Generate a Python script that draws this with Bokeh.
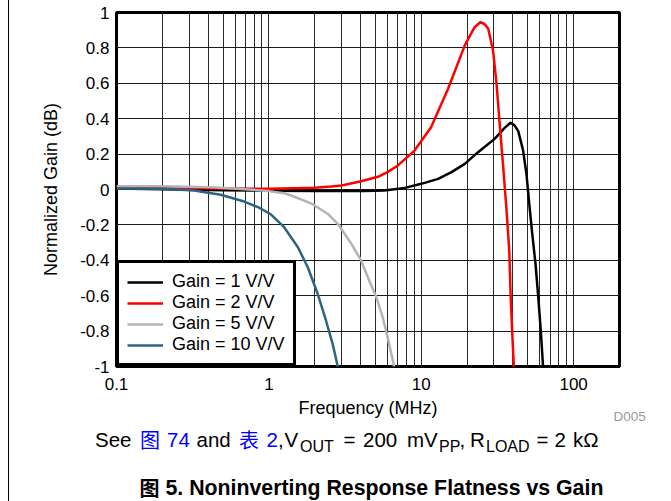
from bokeh.plotting import figure
from bokeh.layouts import column, row
from bokeh.models import FixedTicker, Range1d, Div
from bokeh.core.properties import value
from bokeh.embed import file_html
from bokeh.resources import INLINE

# ---------------- data ----------------
freq_g1 = [0.1, 0.2, 0.5, 1, 2, 3, 4.2, 5.7, 7.8, 10, 12.9, 15.8, 19.3, 23.6, 30.3,
           35, 38.5, 41, 43.3, 46.6, 49.0, 51.4, 53.5, 56.2, 58.5, 60.9, 63, 66]
gain_g1 = [0.005, 0.002, -0.004, -0.007, -0.008, -0.008, -0.009, -0.006, 0.009, 0.032, 0.060,
           0.098, 0.145, 0.211, 0.286, 0.345, 0.377, 0.362, 0.33, 0.22, 0.089, -0.10, -0.25,
           -0.42, -0.60, -0.80, -1.0, -1.25]

freq_g2 = [0.1, 0.2, 0.5, 1, 2, 2.56, 3, 4.03, 5.2, 6.0, 7.03, 9.04, 11.6, 15.0, 19.3,
           22.4, 24.4, 26, 27.5, 29.6, 31.2, 32.7, 34.5, 36.3, 37.8, 38.6, 39.5, 40.5, 42]
gain_g2 = [0.012, 0.01, 0.005, 0.004, 0.01, 0.017, 0.023, 0.047, 0.072, 0.098, 0.136, 0.22,
           0.352, 0.569, 0.814, 0.917, 0.945, 0.935, 0.908, 0.785, 0.597, 0.371, 0.126,
           -0.119, -0.345, -0.60, -0.80, -1.0, -1.3]

freq_g5 = [0.1, 0.2, 0.415, 0.62, 0.98, 1.26, 1.4, 1.89, 2.43, 2.89, 3.48, 4.03, 4.55,
           5.07, 5.58, 6.01, 6.57, 7.2]
gain_g5 = [0.019, 0.019, 0.013, 0.004, -0.008, -0.021, -0.034, -0.078, -0.137, -0.203,
           -0.307, -0.401, -0.514, -0.608, -0.721, -0.834, -0.981, -1.2]

freq_g10 = [0.1, 0.2, 0.323, 0.483, 0.688, 0.85, 1.03, 1.26, 1.55, 1.80, 2.09, 2.37,
            2.62, 2.80, 3.0]
gain_g10 = [0.006, 0.004, -0.006, -0.030, -0.068, -0.10, -0.14, -0.213, -0.326, -0.439,
            -0.589, -0.74, -0.872, -0.981, -1.15]

series_labels = ["Gain = 1 V/V", "Gain = 2 V/V", "Gain = 5 V/V", "Gain = 10 V/V"]
series_colors = ["#000000", "#ff0000", "#b4b4b4", "#2c6482"]

x_major = [0.1, 1, 10, 100]
x_major_labels = ["0.1", "1", "10", "100"]
x_decades = [0.1, 1, 10]
x_end = 200

y_major = [-1, -0.8, -0.6, -0.4, -0.2, 0, 0.2, 0.4, 0.6, 0.8, 1]
y_major_labels = ["-1", "-0.8", "-0.6", "-0.4", "-0.2", "0", "0.2", "0.4", "0.6", "0.8", "1"]

x_title = "Frequency (MHz)"
y_title = "Normalized Gain (dB)"
code_tag = "D005"

# note line pieces: (text, page-x start, kind)  n=normal, b=blue, c=blue CJK, s=subscript
note_parts = [("See", 94.5, "n"), ("图", 139.5, "c"), ("74", 166.5, "b"), ("and", 196, "n"),
              ("表", 238.5, "c"), ("2", 266, "b"), (",", 277.5, "n"), ("V", 284, "n"),
              ("OUT", 299.5, "s"), ("=", 343, "n"), ("200", 362.5, "n"), ("mV", 406.5, "n"),
              ("PP", 438.5, "s"), (",", 459, "n"), ("R", 469.5, "n"), ("LOAD", 485.5, "s"),
              ("=", 536, "n"), ("2", 554, "n"), ("kΩ", 572.5, "n")]
caption_cjk = "图"
caption_text = "5. Noninverting Response Flatness vs Gain"

# ---------------- layout constants (page pixels) ----------------
FONT = "Liberation Sans"
CJK = "Noto Sans CJK SC"
W, H = 671, 501
LINE_W = 9                      # strip holding the page's left rule
FRAME_L, FRAME_R, FRAME_T, FRAME_B = 116, 619, 12, 366
SPLIT = 398
PW = W - LINE_W


def no_align(fig):
    if "frame_align" in fig.properties():
        fig.frame_align = False


# left rule strip (plain HTML block, 1px black rule at x = 8)
rule = Div(text=('<div style="width:%dpx;height:%dpx;background:#ffffff;'
                 'border-right:1px solid #000000;box-sizing:border-box;"></div>')
           % (LINE_W, H), width=LINE_W, height=H, margin=0)

# main chart
p = figure(width=PW, height=SPLIT, x_axis_type="log", output_backend="svg",
           toolbar_location=None, min_border_left=FRAME_L - LINE_W,
           min_border_right=W - FRAME_R, min_border_top=FRAME_T,
           min_border_bottom=SPLIT - FRAME_B)
no_align(p)
p.x_range = Range1d(x_decades[0], x_end)
p.y_range = Range1d(y_major[0], y_major[-1])
p.background_fill_color = "white"
p.border_fill_color = "white"
p.outline_line_color = "black"
p.outline_line_width = 3
p.outline_line_alpha = 1

minor = [m * d for d in x_decades for m in range(2, 10)] + [x_end]
p.xaxis.ticker = FixedTicker(ticks=x_major, minor_ticks=minor)
p.yaxis.ticker = FixedTicker(ticks=y_major)
p.xaxis.major_label_overrides = dict(zip(x_major, x_major_labels))
p.yaxis.major_label_overrides = dict(zip(y_major, y_major_labels))

for ax in (p.xaxis, p.yaxis):
    ax.axis_line_color = None
    ax.major_tick_line_color = None
    ax.minor_tick_line_color = None
    ax.major_tick_out = 0
    ax.major_tick_in = 0
    ax.minor_tick_out = 0
    ax.major_label_text_font = FONT
    ax.major_label_text_font_size = "17px"
    ax.major_label_text_color = "black"
    ax.axis_label_text_font = FONT
    ax.axis_label_text_font_size = "18px"
    ax.axis_label_text_font_style = "normal"
    ax.axis_label_text_color = "black"

p.yaxis.axis_label = y_title
p.xaxis.major_label_standoff = 11
p.yaxis.major_label_standoff = 7
p.yaxis.axis_label_standoff = 16

p.xgrid.grid_line_color = "#2a2a2a"
p.xgrid.minor_grid_line_color = "#2a2a2a"
p.ygrid.grid_line_color = "#1a1a1a"

series = [(freq_g1, gain_g1), (freq_g2, gain_g2), (freq_g5, gain_g5), (freq_g10, gain_g10)]
for (fx, gy), lab, col in zip(series, series_labels, series_colors):
    p.line(fx, gy, line_color=col, line_width=2.5, line_join="round", legend_label=lab)

lg = p.legend[0]
lg.location = "bottom_left"
lg.margin = 0
lg.padding = 8
lg.spacing = 0
lg.border_line_color = "black"
lg.border_line_width = 3
lg.border_line_alpha = 1
lg.background_fill_color = "white"
lg.background_fill_alpha = 1
lg.glyph_width = 36
lg.glyph_height = 20
lg.label_height = 20
lg.label_standoff = 9
lg.label_text_font = FONT
lg.label_text_font_size = "18px"
lg.label_text_color = "black"

# ---------------- text panel below the chart ----------------
H2 = H - SPLIT
t = figure(width=PW, height=H2, output_backend="svg", toolbar_location=None,
           x_axis_type=None, y_axis_type=None, min_border=0,
           min_border_left=0, min_border_right=0, min_border_top=0, min_border_bottom=0,
           x_range=Range1d(0, PW), y_range=Range1d(0, H2))
no_align(t)
t.outline_line_color = None
t.xgrid.visible = False
t.ygrid.visible = False
t.background_fill_color = "white"
t.border_fill_color = "white"


def tx(px):
    return px - LINE_W


def ty(py):
    return H - py


def put(xs, ys, texts, font, size, color, align="left", style="normal"):
    t.text(x=[tx(v) for v in xs], y=[ty(v) for v in ys], text=texts, text_font=value(font),
           text_font_size=value(size), text_color=color, text_align=align,
           text_baseline="middle", text_font_style=style)


put([(FRAME_L + FRAME_R) / 2], [407], [x_title], FONT, "18px", "black", align="center")
put([613], [416], [code_tag], FONT, "13.5px", "#9a9a9a")

note_styles = {
    "n": (FONT, "20.5px", "black", 439),
    "b": (FONT, "20.5px", "#0000ff", 439),
    "c": (CJK, "20px", "#0000ff", 439),
    "s": (FONT, "16px", "black", 446),
}
for kind, (fnt, size, colr, mid) in note_styles.items():
    parts = [(s, px) for s, px, k in note_parts if k == kind]
    put([px for _, px in parts], [mid] * len(parts), [s for s, _ in parts], fnt, size, colr)

put([139], [487], [caption_cjk], CJK, "20px", "black", style="bold")
put([165], [487], [caption_text], FONT, "21.3px", "black", style="bold")

layout = row(rule, column(p, t, spacing=0), spacing=0)

open("out.html", "w").write(file_html(layout, INLINE))
